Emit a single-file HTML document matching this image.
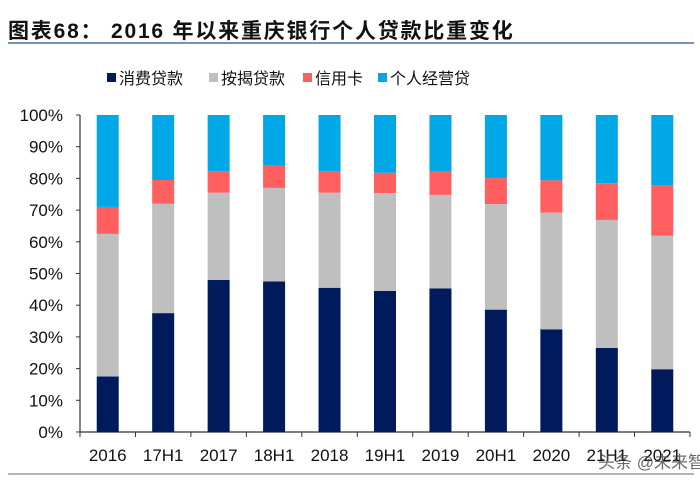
<!DOCTYPE html>
<html><head><meta charset="utf-8"><style>
body{margin:0;background:#fff;width:700px;height:486px;overflow:hidden}
svg{font-family:"Liberation Sans","Noto Sans CJK SC",sans-serif}
</style></head><body>
<svg id="c" width="700" height="486">
<text x="8" y="38" font-size="21" font-weight="bold" letter-spacing="1.8" fill="#111">图表68：  2016 年以来重庆银行个人贷款比重变化</text>
<line x1="8" y1="43" x2="694" y2="43" stroke="#4f6f8f" stroke-width="1.5"/>
<line x1="8" y1="474" x2="694" y2="474" stroke="#4f6f8f" stroke-width="1"/>
<g id="legend"></g>
<g id="grid"></g>
<g id="bars"></g>
<text x="598" y="468" font-size="17" fill="#444" opacity="0.8">头条 @未来智库</text>
</svg>
<script>
const categories=["2016","17H1","2017","18H1","2018","19H1","2019","20H1","2020","21H1","2021"];
const consumer=[17.5,37.5,48,47.5,45.5,44.5,45.3,38.6,32.4,26.5,19.8];
const mortgage=[45,34.5,27.5,29.5,30,30.9,29.5,33.3,36.8,40.4,42.1];
const creditCard=[8.5,7.5,6.8,7,6.8,6.4,7.4,8.2,10.2,11.6,15.9];
const business=[29,20.5,17.7,16,17.7,18.2,17.8,19.9,20.6,21.5,22.2];
const seriesNames=["消费贷款","按揭贷款","信用卡","个人经营贷"];
const yTicks=[0,10,20,30,40,50,60,70,80,90,100];
const colors=["#001a5c","#bfbfbf","#ff5f5f","#00a8e8"];
const ns="http://www.w3.org/2000/svg";
const X0=80,X1=690,Y0=432,Y1=115;
const y=v=>Y0-(v/100)*(Y0-Y1);
const step=(X1-X0)/categories.length;
const xc=i=>X0+step*(i+0.5);
function mk(t,a,p){const e=document.createElementNS(ns,t);for(const k in a)e.setAttribute(k,a[k]);p.appendChild(e);return e;}
const g=document.getElementById('grid'),b=document.getElementById('bars'),lg=document.getElementById('legend');
let ax=mk('line',{x1:X0,y1:Y1,x2:X0,y2:Y0,stroke:'#333','stroke-width':1.2},g);


let bx=mk('line',{x1:X0,y1:Y0,x2:X1,y2:Y0,stroke:'#333','stroke-width':1.2},g);


yTicks.forEach(v=>{
  mk('line',{x1:X0-4,y1:y(v),x2:X0,y2:y(v),stroke:'#333'},g);
  const t=mk('text',{x:X0-17,y:y(v)+6,'text-anchor':'end','font-size':17,fill:'#111'},g);
  t.textContent=v+'%';
  
  
});
for(let i=0;i<=categories.length;i++)mk('line',{x1:X0+step*i,y1:Y0,x2:X0+step*i,y2:Y0+5,stroke:'#333'},g);
const series=[consumer,mortgage,creditCard,business];
categories.forEach((c,i)=>{
  let acc=0;
  series.forEach((s,k)=>{
    const r=mk('rect',{x:xc(i)-11,y:y(acc+s[i]),width:22,height:y(acc)-y(acc+s[i]),fill:colors[k]},b);
    
    
    acc+=s[i];
  });
  const t=mk('text',{x:xc(i),y:461,'text-anchor':'middle','font-size':17,fill:'#111'},g);
  t.textContent=c;
  
  
});
const lx=[107,209,303,378];
seriesNames.forEach((n,k)=>{
  const r=mk('rect',{x:lx[k],y:73,width:9,height:9,fill:colors[k]},lg);
  
  
  const t=mk('text',{x:lx[k]+12,y:84,'font-size':16,fill:'#111'},lg);
  t.textContent=n;
  
  
});
</script>
</body></html>
